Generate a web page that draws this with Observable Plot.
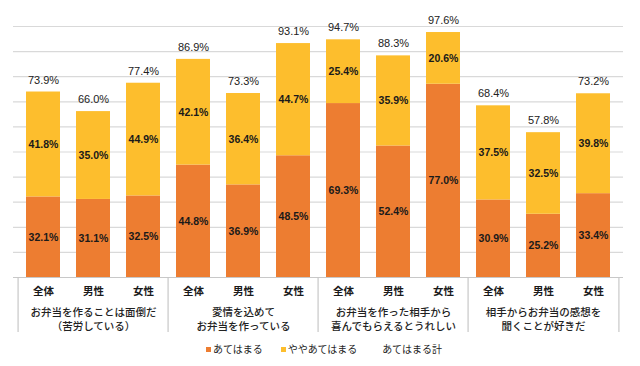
<!DOCTYPE html>
<html><head><meta charset="utf-8">
<script src="https://cdn.jsdelivr.net/npm/d3@7"></script>
<script src="https://cdn.jsdelivr.net/npm/@observablehq/plot@0.6"></script>
<style>
body{margin:0;background:#fff;}
#legend{height:26px;line-height:26px;text-align:center;font-family:"Noto Sans CJK JP",sans-serif;font-size:10px;color:#222;padding-left:8px;}
#legend span{margin:0 9px;}
#legend i{display:inline-block;width:5px;height:5px;margin-right:2px;vertical-align:middle;position:relative;top:-1px;}
</style></head>
<body><div id="chart"></div><div id="legend"></div>
<script>
const groups = ["お弁当を作ることは面倒だ\n（苦労している）", "愛情を込めて\nお弁当を作っている", "お弁当を作った相手から\n喜んでもらえるとうれしい", "相手からお弁当の感想を\n聞くことが好きだ"];
const sexes = ["全体", "男性", "女性"];
const parts = ["あてはまる", "ややあてはまる"];
const totalLabel = "あてはまる計";
const atehamaru = [[32.1, 31.1, 32.5], [44.8, 36.9, 48.5], [69.3, 52.4, 77.0], [30.9, 25.2, 33.4]];
const yaya = [[41.8, 35.0, 44.9], [42.1, 36.4, 44.7], [25.4, 35.9, 20.6], [37.5, 32.5, 39.8]];
const totals = [[73.9, 66.0, 77.4], [86.9, 73.3, 93.1], [94.7, 88.3, 97.6], [68.4, 57.8, 73.2]];
const colors = ["#ED7D31", "#FDBE2D"];
const gridTicks = [10, 20, 30, 40, 50, 60, 70, 80, 90, 100];

const rows = [], tots = [], keys = [];
groups.forEach((g, gi) => sexes.forEach((s, si) => {
  const key = gi + "|" + s;
  keys.push(key);
  rows.push({key, part: parts[0], value: atehamaru[gi][si]});
  rows.push({key, part: parts[1], value: yaya[gi][si]});
  tots.push({key, value: totals[gi][si]});
}));
const groupMid = groups.map((g, gi) => ({key: gi + "|" + sexes[1], label: g}));
const sepLeft = groups.map((g, gi) => ({key: gi + "|" + sexes[0]}));
const sepRight = [{key: (groups.length - 1) + "|" + sexes[2]}];

const W = 640, mL = 13, mR = 17;
const step = (W - mL - mR) / keys.length;
const numFont = "'Liberation Sans Narrow','Liberation Sans',Arial,sans-serif";
const jpFont = "'Noto Sans CJK JP',sans-serif";

const chart = Plot.plot({
  width: W, height: 336,
  marginTop: 26, marginBottom: 59, marginLeft: mL, marginRight: mR,
  style: {fontFamily: jpFont, background: "#fff"},
  x: {domain: keys, paddingInner: 0.33, paddingOuter: 0.165, axis: null},
  y: {domain: [0, 100], axis: null},
  color: {domain: parts, range: colors},
  marks: [
    Plot.ruleY(gridTicks, {stroke: "#d9d9d9", strokeWidth: 1.2}),
    Plot.ruleY([0], {stroke: "#c8c8c8", strokeWidth: 1.2}),
    Plot.ruleX(sepLeft, {x: "key", y1: 0, y2: 0, insetBottom: -55, dx: -step / 2, stroke: "#c8c8c8", strokeWidth: 1.2}),
    Plot.ruleX(sepRight, {x: "key", y1: 0, y2: 0, insetBottom: -55, dx: step / 2, stroke: "#c8c8c8", strokeWidth: 1.2}),
    Plot.barY(rows, {x: "key", y: "value", fill: "part"}),
    Plot.text(rows, Plot.stackY({x: "key", y: "value", z: "part", text: d => d.value.toFixed(1) + "%", fill: "#1a1a1a", fontSize: 10.5, fontWeight: "bold", fontFamily: numFont})),
    Plot.text(tots, {x: "key", y: "value", dy: -12, text: d => d.value.toFixed(1) + "%", fill: "#222", fontSize: 11, fontFamily: numFont}),
    Plot.text(keys, {x: d => d, y: 0, dy: 14, text: d => d.split("|")[1], fill: "#1a1a1a", fontSize: 10.5, fontWeight: "bold"}),
    Plot.text(groupMid, {x: "key", y: 0, dy: 29, lineAnchor: "top", lineHeight: 1.3, text: "label", fill: "#222", fontSize: 10.5, fontWeight: 500})
  ]
});
document.getElementById("chart").appendChild(chart);

const legend = document.getElementById("legend");
parts.forEach((p, i) => {
  const s = document.createElement("span");
  s.innerHTML = `<i style="background:${colors[i]}"></i>${p}`;
  legend.appendChild(s);
});
const t = document.createElement("span");
t.innerHTML = `<i style="background:transparent"></i>${totalLabel}`;
legend.appendChild(t);
</script></body></html>
